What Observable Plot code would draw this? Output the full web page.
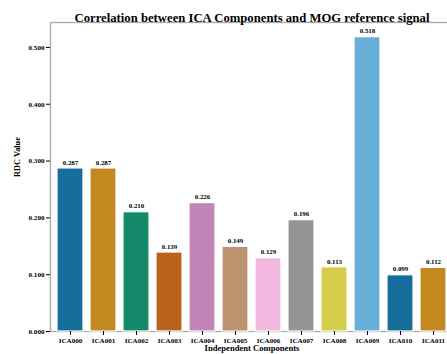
<!DOCTYPE html>
<html><head><meta charset="utf-8">
<script src="https://cdn.jsdelivr.net/npm/d3@7"></script>
<script src="https://cdn.jsdelivr.net/npm/@observablehq/plot@0.6"></script>
<style>
body{margin:0;background:#fff;}
svg{font-family:"Liberation Serif","Times New Roman",serif;}
</style></head>
<body><div id="chart"></div>
<script>
const components = ["ICA000","ICA001","ICA002","ICA003","ICA004","ICA005","ICA006","ICA007","ICA008","ICA009","ICA010","ICA011"];
const rdcValues = [0.287,0.287,0.210,0.139,0.226,0.149,0.129,0.196,0.113,0.518,0.099,0.112];
const barColors = ["#176d9c","#c38820","#158a6a","#ba611b","#c283b6","#bd926e","#f2b8e0","#949494","#d5cd4a","#68afd7","#176d9c","#c38820"];
const yTicks = [0,0.1,0.2,0.3,0.4,0.5];
const titleText = "Correlation between ICA Components and MOG reference signal";

const data = components.map((c,i)=>({comp:c, v:rdcValues[i], col:barColors[i]}));

const chart = Plot.plot({
  width: 447, height: 354,
  marginLeft: 50, marginRight: -6, marginTop: 22, marginBottom: 23,
  style: {fontFamily: "Liberation Serif, serif", background: "#fff", overflow: "hidden"},
  x: {domain: components, padding: 0.2, label: null},
  y: {domain: [0, 0.5439], label: null},
  marks: [
    Plot.frame({stroke: "#a8a8a8", strokeWidth: 1.3}),
    Plot.barY(data, {x: "comp", y: "v", fill: "col", stroke: "#fff", strokeWidth: 1.2}),
    Plot.text(data, {x: "comp", y: "v", text: d => d.v.toFixed(3), dy: -6, fontSize: 6.9, fontWeight: "bold", fill: "#000"}),
    Plot.axisX({tickSize: 4, tickPadding: 2, fontSize: 7.1, fontWeight: "bold", color: "#000", label: null}),
    Plot.axisY({ticks: yTicks, tickFormat: d3.format(".3f"), tickSize: 4, tickPadding: 2, fontSize: 7.1, fontWeight: "bold", color: "#000", label: null}),
    Plot.text([titleText], {frameAnchor: "top", dy: -10, text: d => d, fontSize: 12.7, fontWeight: "bold", fill: "#000"}),
    Plot.text(["Independent Components"], {frameAnchor: "bottom", dy: 19.5, text: d => d, fontSize: 8.6, fontWeight: "bold", fill: "#000"}),
    Plot.text(["RDC Value"], {frameAnchor: "left", dx: -33, rotate: -90, text: d => d, fontSize: 8.3, fontWeight: "bold", fill: "#000"})
  ]
});
document.getElementById("chart").appendChild(chart);
</script></body></html>
